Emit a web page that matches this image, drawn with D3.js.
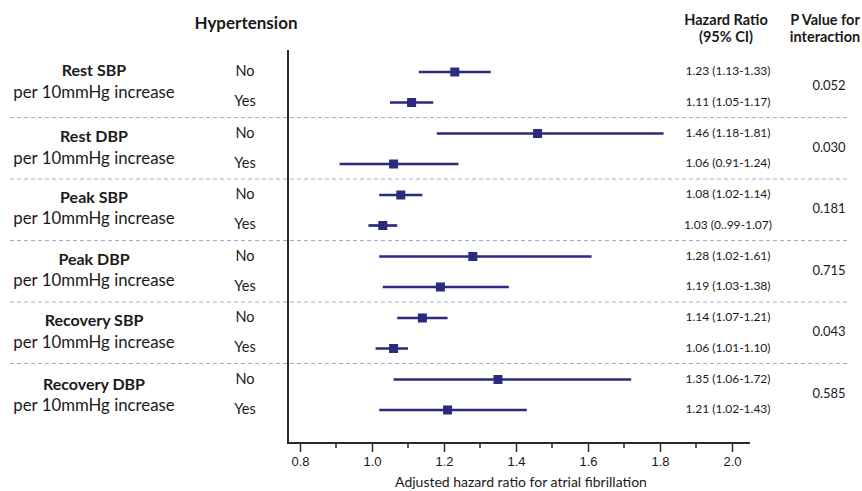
<!DOCTYPE html>
<html>
<head>
<meta charset="utf-8">
<script src="https://cdn.jsdelivr.net/npm/d3@7"></script>
<style>
  body { margin: 0; background: #fff; }
  svg { display: block; }
  text { font-family: Lato, "Open Sans", sans-serif; fill: #1a1a1a; }
  .tick text { font-family: "Liberation Sans", Arial, sans-serif; }
</style>
</head>
<body>
<div id="chart"></div>
<script>
const width = 862;
const height = 491;

// Data
const measures = ["Rest SBP", "Rest DBP", "Peak SBP", "Peak DBP", "Recovery SBP", "Recovery DBP"];
const groups = ["No", "Yes"];
const hr    = [[1.23, 1.11], [1.46, 1.06], [1.08, 1.03], [1.28, 1.19], [1.14, 1.06], [1.35, 1.21]];
const lower = [[1.13, 1.05], [1.18, 0.91], [1.02, 0.99], [1.02, 1.03], [1.07, 1.01], [1.06, 1.02]];
const upper = [[1.33, 1.17], [1.81, 1.24], [1.14, 1.07], [1.61, 1.38], [1.21, 1.10], [1.72, 1.43]];
const hrLabels = [
  ["1.23 (1.13-1.33)", "1.11 (1.05-1.17)"],
  ["1.46 (1.18-1.81)", "1.06 (0.91-1.24)"],
  ["1.08 (1.02-1.14)", "1.03 (0..99-1.07)"],
  ["1.28 (1.02-1.61)", "1.19 (1.03-1.38)"],
  ["1.14 (1.07-1.21)", "1.06 (1.01-1.10)"],
  ["1.35 (1.06-1.72)", "1.21 (1.02-1.43)"]
];
const pValues = ["0.052", "0.030", "0.181", "0.715", "0.043", "0.585"];
const xTicks = [0.8, 1.0, 1.2, 1.4, 1.6, 1.8, 2.0];
const xMinorTicks = [0.9, 1.1, 1.3, 1.5, 1.7, 1.9];

const navy = "#2b2a7c";
// small vertical nudge of the left-hand block labels
const labelShift = [0, 4.5, 3.5, 4, 4, 6];

// flatten rows
const rows = [];
measures.forEach((m, i) => {
  groups.forEach((g, j) => {
    rows.push({ m: i, g: j, hr: hr[i][j], lo: lower[i][j], hi: upper[i][j], label: hrLabels[i][j] });
  });
});

const svg = d3.select("#chart")
  .append("svg")
  .attr("width", width)
  .attr("height", height);

// scales
const x = d3.scaleLinear().domain([0.8, 2.0]).range([300, 732]);
const rowY = (i, j) => 72 + 61.5 * i + 30.5 * j;

// dashed separators
svg.selectAll(".sep")
  .data(d3.range(1, measures.length))
  .join("line")
  .attr("x1", 10).attr("x2", 850)
  .attr("y1", i => rowY(i, 0) - 16).attr("y2", i => rowY(i, 0) - 16)
  .attr("stroke", "#9db3dc")
  .attr("stroke-width", 1)
  .attr("stroke-dasharray", "4,3");

// axis frame
const axisY = 443;
svg.append("path")
  .attr("d", `M${x(0.8) - 12},50 V${axisY} H${x(2.0) + 18}`)
  .attr("fill", "none")
  .attr("stroke", "#2a2a2a")
  .attr("stroke-width", 2);

const xAxis = d3.axisBottom(x)
  .tickValues(xTicks)
  .tickFormat(d3.format(".1f"))
  .tickSize(9)
  .tickPadding(5);

const ax = svg.append("g")
  .attr("transform", `translate(0,${axisY})`)
  .call(xAxis);
ax.select(".domain").remove();
ax.selectAll(".tick line").attr("stroke", "#2a2a2a").attr("stroke-width", 1.5);
ax.selectAll(".tick text").attr("font-size", 13).attr("fill", "#222");

svg.append("g")
  .selectAll("line")
  .data(xMinorTicks)
  .join("line")
  .attr("x1", d => x(d)).attr("x2", d => x(d))
  .attr("y1", axisY).attr("y2", axisY + 5)
  .attr("stroke", "#2a2a2a")
  .attr("stroke-width", 1.5);

svg.append("text")
  .attr("x", 521)
  .attr("y", 483)
  .attr("text-anchor", "middle")
  .attr("dominant-baseline", "middle")
  .attr("font-size", 14)
  .text("Adjusted hazard ratio for atrial fibrillation");

// CI lines and squares
svg.selectAll(".ci")
  .data(rows)
  .join("line")
  .attr("x1", d => x(d.lo)).attr("x2", d => x(d.hi))
  .attr("y1", d => rowY(d.m, d.g)).attr("y2", d => rowY(d.m, d.g))
  .attr("stroke", navy)
  .attr("stroke-width", 2.7);

const sq = 9;
svg.selectAll(".pt")
  .data(rows)
  .join("rect")
  .attr("x", d => x(d.hr) - sq / 2)
  .attr("y", d => rowY(d.m, d.g) - sq / 2)
  .attr("width", sq).attr("height", sq)
  .attr("fill", navy);

// headers
const header = (txt, cx, cy, size) => svg.append("text")
  .attr("x", cx).attr("y", cy)
  .attr("text-anchor", "middle")
  .attr("dominant-baseline", "middle")
  .attr("font-size", size)
  .attr("font-weight", "bold")
  .text(txt);

header("Hypertension", 246, 25, 17);
header("Hazard Ratio", 726, 21, 14.5);
header("(95% CI)", 726, 38, 14.5);
header("P Value for", 825, 21, 14.5);
header("interaction", 825, 38, 14.5);

// left labels
svg.selectAll(".mname")
  .data(measures)
  .join("text")
  .attr("x", 94)
  .attr("y", (d, i) => rowY(i, 0) + labelShift[i])
  .attr("text-anchor", "middle")
  .attr("dominant-baseline", "middle")
  .attr("font-size", 16)
  .attr("font-weight", "bold")
  .text(d => d);

svg.selectAll(".msub")
  .data(measures)
  .join("text")
  .attr("x", 94)
  .attr("y", (d, i) => rowY(i, 0) + labelShift[i] + 21.5)
  .attr("text-anchor", "middle")
  .attr("dominant-baseline", "middle")
  .attr("font-size", 16.8)
  .text("per 10mmHg increase");

svg.selectAll(".grp")
  .data(rows)
  .join("text")
  .attr("x", 245)
  .attr("y", d => rowY(d.m, d.g) + (d.g ? 0 : 0.5))
  .attr("text-anchor", "middle")
  .attr("dominant-baseline", "middle")
  .attr("font-size", 14.5)
  .text(d => groups[d.g]);

// right columns
svg.selectAll(".hrlab")
  .data(rows)
  .join("text")
  .attr("x", 728)
  .attr("y", d => rowY(d.m, d.g))
  .attr("text-anchor", "middle")
  .attr("dominant-baseline", "middle")
  .attr("font-size", 12)
  .text(d => d.label);

svg.selectAll(".pval")
  .data(pValues)
  .join("text")
  .attr("x", 829)
  .attr("y", (d, i) => rowY(i, 0) + 15)
  .attr("text-anchor", "middle")
  .attr("dominant-baseline", "middle")
  .attr("font-size", 13)
  .text(d => d);
</script>
</body>
</html>
